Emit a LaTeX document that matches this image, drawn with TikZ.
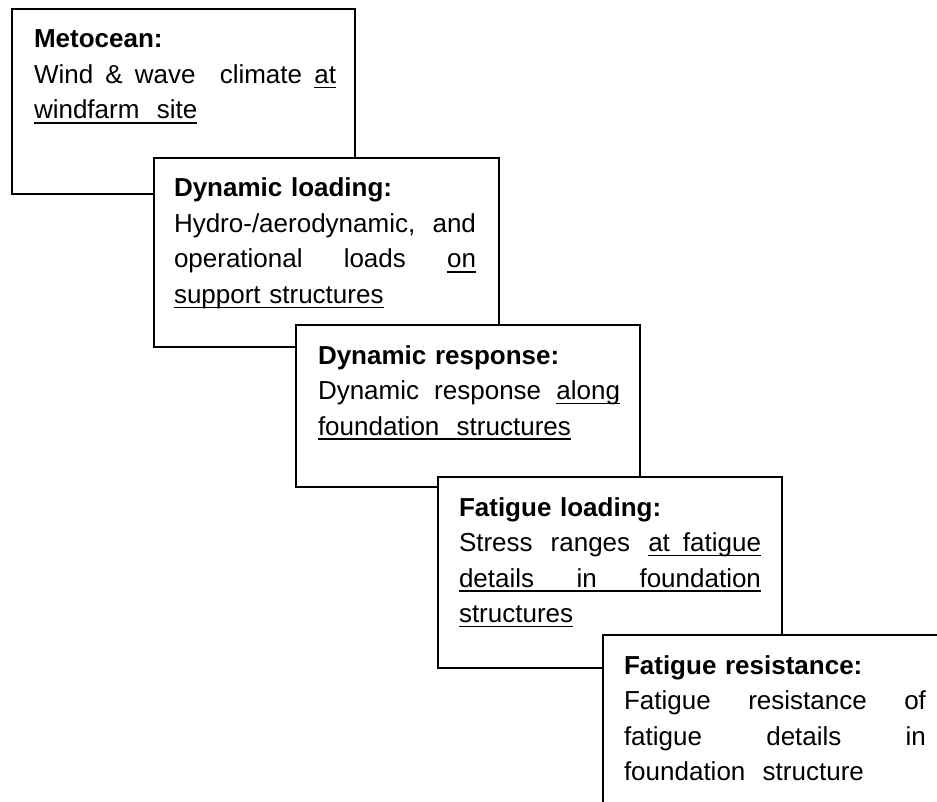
\documentclass[tikz,border=0pt]{standalone}
\usepackage{fontspec}
\setmainfont{Liberation Sans}
\usetikzlibrary{calc}
\newlength\tw \setlength\tw{302pt}
\newcommand\jl[1]{\makebox[\tw][s]{\spaceskip=0pt\xspaceskip=0pt #1}}
\newsavebox\ulbox
\newcommand\ulx[1]{\leavevmode\sbox\ulbox{#1}\rlap{\rule[-4.8pt]{\wd\ulbox}{1.7pt}}\usebox\ulbox}
\newcommand\firststrut{\leavevmode\rule{0pt}{20pt}}
\tikzset{
  stepbox/.style={draw=black, fill=white, line width=1.6pt, anchor=north west,
    inner sep=0pt, outer sep=0pt},
  steptext/.style={anchor=north west, inner sep=0pt, outer sep=0pt, text width=302pt,
    font=\fontsize{26pt}{35.5pt}\selectfont}
}
\begin{document}
\begin{tikzpicture}[x=1pt,y=-1pt]
\useasboundingbox (0,0) rectangle (937,802);
\clip (0,0) rectangle (937,802);
\node[stepbox, minimum width=343pt, minimum height=185pt] (b1) at (12,9) {};
\node[steptext] (t1) at ($(b1.north west)+(22,19)$) {\firststrut\textbf{Metocean:}\\
\jl{Wind \& wave\ \ climate \ulx{at}}\\
\ulx{windfarm\ \ site}};
\node[stepbox, minimum width=345pt, minimum height=189pt] (b2) at (154,158) {};
\node[steptext] (t2) at ($(b2.north west)+(20,19)$) {\firststrut\textbf{Dynamic loading:}\\
\jl{Hydro-/aerodynamic, and}\\
\jl{operational loads \ulx{on}}\\
\ulx{support structures}};
\node[stepbox, minimum width=344pt, minimum height=162pt] (b3) at (296,325) {};
\node[steptext] (t3) at ($(b3.north west)+(22,19)$) {\firststrut\textbf{Dynamic response:}\\
\jl{Dynamic response \ulx{along}}\\
\ulx{foundation\ \ structures}};
\node[stepbox, minimum width=344pt, minimum height=191pt] (b4) at (438,477) {};
\node[steptext] (t4) at ($(b4.north west)+(21,19)$) {\firststrut\textbf{Fatigue loading:}\\
\jl{Stress ranges \ulx{at\hskip 13pt fatigue}}\\
\ulx{\jl{details in foundation}}\\
\ulx{structures}};
\node[stepbox, minimum width=344pt, minimum height=200pt] (b5) at (603,635) {};
\node[steptext] (t5) at ($(b5.north west)+(21,19)$) {\firststrut\textbf{Fatigue resistance:}\\
\jl{Fatigue resistance of}\\
\jl{fatigue details in}\\
foundation\ \ structure};
\end{tikzpicture}
\end{document}
